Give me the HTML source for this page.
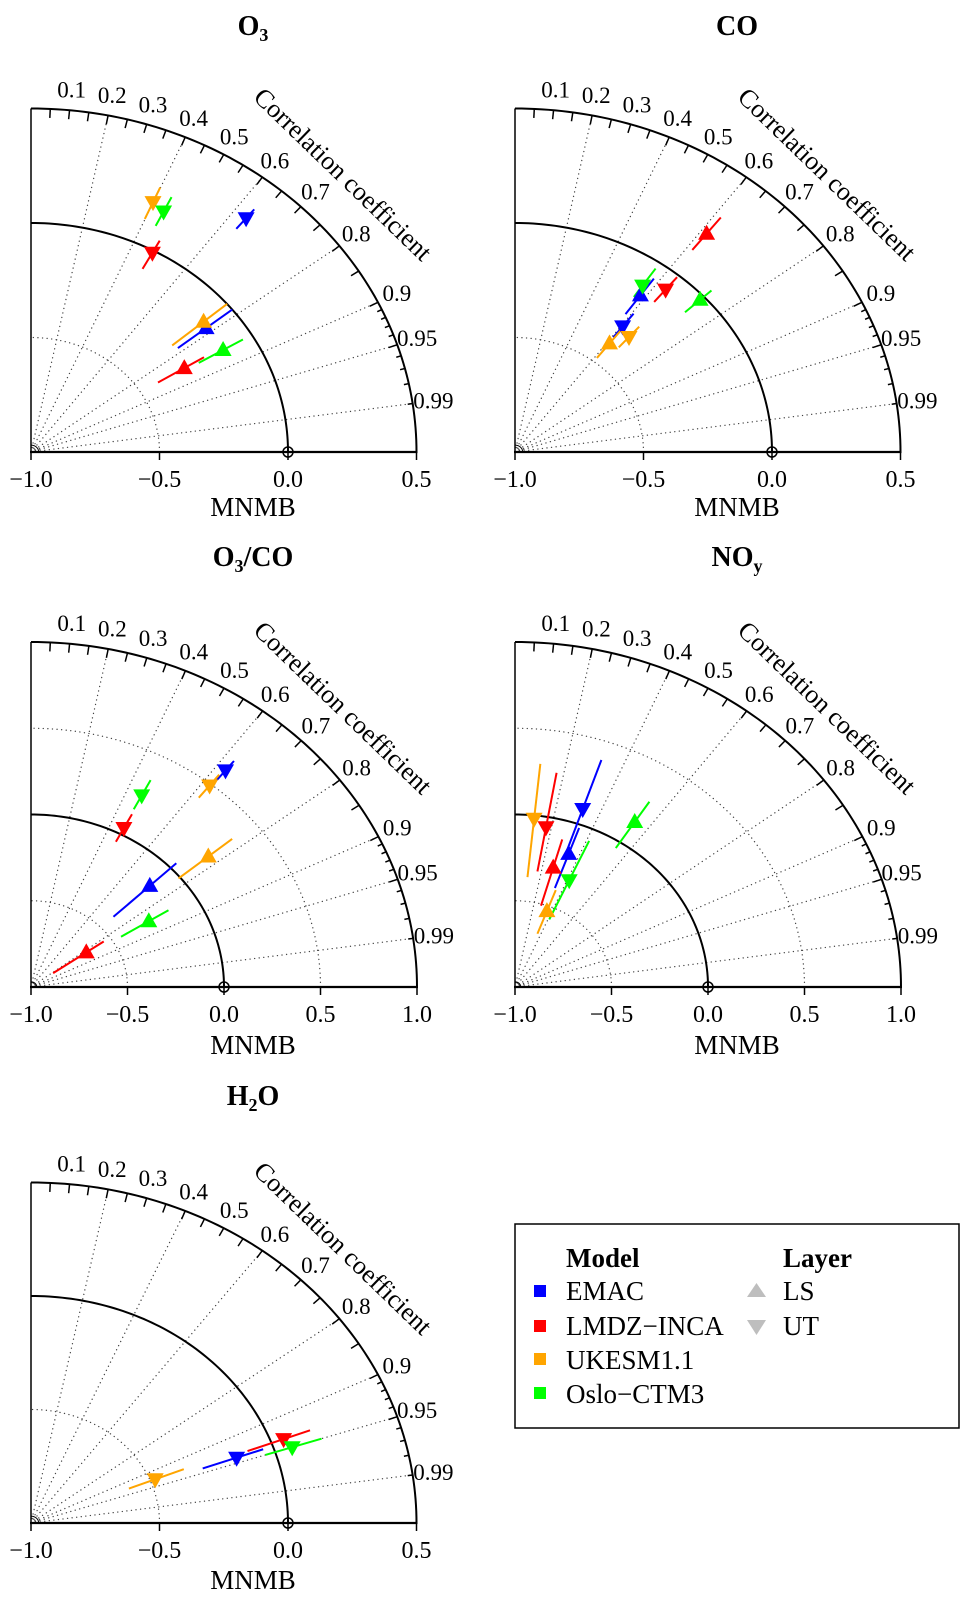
<!DOCTYPE html>
<html><head><meta charset="utf-8"><style>
html,body{margin:0;padding:0;background:#fff;}
svg{display:block;font-family:"Liberation Serif",serif;}
</style></head><body>
<svg id="fig" width="970" height="1600" viewBox="0 0 970 1600" xmlns="http://www.w3.org/2000/svg">
<g id="panels"></g>
<g>
<rect x="515" y="1224" width="444" height="204" fill="#fff" stroke="#000" stroke-width="1.5"/>
<text x="566" y="1267" font-size="27" font-weight="bold">Model</text>
<text x="783" y="1267" font-size="27" font-weight="bold">Layer</text>
<rect x="534" y="1285" width="12" height="12" fill="#0000ff"/>
<text x="566" y="1300" font-size="27">EMAC</text>
<rect x="534" y="1320" width="12" height="12" fill="#ff0000"/>
<text x="566" y="1335" font-size="27">LMDZ−INCA</text>
<rect x="534" y="1353" width="12" height="12" fill="#ffa500"/>
<text x="566" y="1369" font-size="27">UKESM1.1</text>
<rect x="534" y="1387" width="12" height="12" fill="#00ff00"/>
<text x="566" y="1403" font-size="27">Oslo−CTM3</text>
<polygon points="756.5,1283 747,1297 766,1297" fill="#bebebe"/>
<text x="783" y="1300" font-size="27">LS</text>
<polygon points="747,1320 766,1320 756.5,1335" fill="#bebebe"/>
<text x="783" y="1335" font-size="27">UT</text>
</g>
</svg>
<script>
// shared series identity (order of points in every panel)
const pointModel = ["EMAC","EMAC","LMDZ-INCA","LMDZ-INCA","UKESM1.1","UKESM1.1","Oslo-CTM3","Oslo-CTM3"];
const pointLayer = ["LS","UT","LS","UT","LS","UT","LS","UT"];
// O3
const o3Mnmb = [-0.13, 0.32, -0.30, -0.01, -0.12, 0.19, -0.13, 0.17];
const o3Corr = [0.783, 0.634, 0.852, 0.477, 0.763, 0.399, 0.859, 0.441];
const o3Lo   = [-0.27, 0.26, -0.42, -0.09, -0.28, 0.11, -0.24, 0.10];
const o3Hi   = [0.00, 0.37, -0.21, 0.05, 0.00, 0.26, -0.04, 0.24];
// CO
const coMnmb = [-0.16, -0.31, 0.21, -0.08, -0.40, -0.33, -0.02, -0.12];
const coCorr = [0.581, 0.607, 0.616, 0.637, 0.613, 0.662, 0.735, 0.564];
const coLo   = [-0.26, -0.37, 0.12, -0.15, -0.48, -0.39, -0.10, -0.18];
const coHi   = [-0.07, -0.24, 0.30, -0.01, -0.33, -0.27, 0.04, -0.03];
// O3/CO
const ratioMnmb = [-0.15, 0.61, -0.65, 0.04, 0.19, 0.49, -0.28, 0.25];
const ratioCorr = [0.724, 0.626, 0.819, 0.463, 0.772, 0.621, 0.848, 0.459];
const ratioLo   = [-0.41, 0.54, -0.86, -0.05, -0.01, 0.40, -0.45, 0.16];
const ratioHi   = [0.04, 0.68, -0.54, 0.13, 0.35, 0.57, -0.16, 0.35];
// NOy
const noyMnmb = [-0.18, 0.09, -0.28, -0.06, -0.53, -0.02, 0.14, -0.32];
const noyCorr = [0.339, 0.322, 0.275, 0.171, 0.352, 0.101, 0.544, 0.413];
const noyLo   = [-0.39, -0.19, -0.51, -0.32, -0.67, -0.36, -0.04, -0.57];
const noyHi   = [-0.02, 0.39, -0.11, 0.26, -0.40, 0.30, 0.28, -0.07];
// H2O (UT only)
const h2oMnmb = [null, -0.15, null, 0.05, null, -0.48, null, 0.07];
const h2oCorr = [null, 0.941, null, 0.936, null, 0.929, null, 0.950];
const h2oLo   = [null, -0.29, null, -0.10, null, -0.59, null, -0.04];
const h2oHi   = [null, -0.04, null, 0.16, null, -0.36, null, 0.19];
// axis tick labels
const xTicksShort = [-1.0, -0.5, 0.0, 0.5];
const xTicksLong  = [-1.0, -0.5, 0.0, 0.5, 1.0];
const corrLabels = [0.1,0.2,0.3,0.4,0.5,0.6,0.7,0.8,0.9,0.95,0.99];
const corrGrid = [0.2,0.4,0.6,0.8,0.9,0.95,0.99];
const modelColors = {"EMAC":"#0000ff","LMDZ-INCA":"#ff0000","UKESM1.1":"#ffa500","Oslo-CTM3":"#00ff00"};

const NS = "http://www.w3.org/2000/svg";
const root = document.getElementById('panels');
function mk(tag, attrs, parent){
  const e = document.createElementNS(NS, tag);
  for (const k in attrs) e.setAttribute(k, attrs[k]);
  parent.appendChild(e); return e;
}
function fmt(v){ const s = Math.abs(v).toFixed(1); return (v<0?'\u2212':'')+s; }

const panels = [
  {key:'o3', ox:31, oy:452, sx:257, sy:229, rmax:1.5, ticks:xTicksShort, title:['O','3',''], ty:35, my:64,
   m:o3Mnmb, c:o3Corr, lo:o3Lo, hi:o3Hi},
  {key:'co', ox:515, oy:452, sx:257, sy:229, rmax:1.5, ticks:xTicksShort, title:['CO','',''], ty:35, my:64,
   m:coMnmb, c:coCorr, lo:coLo, hi:coHi},
  {key:'o3co', ox:31, oy:987, sx:193, sy:172.5, rmax:2, ticks:xTicksLong, title:['O','3','/CO'], ty:566, my:67,
   m:ratioMnmb, c:ratioCorr, lo:ratioLo, hi:ratioHi},
  {key:'noy', ox:515, oy:987, sx:193, sy:172.5, rmax:2, ticks:xTicksLong, title:['NO','y',''], ty:566, my:67,
   m:noyMnmb, c:noyCorr, lo:noyLo, hi:noyHi},
  {key:'h2o', ox:31, oy:1523, sx:257, sy:227, rmax:1.5, ticks:xTicksShort, title:['H','2','O'], ty:1105, my:66,
   m:h2oMnmb, c:h2oCorr, lo:h2oLo, hi:h2oHi}
];

panels.forEach(p=>{
  const g = mk('g', {}, root);
  
  
  const X = (r,c)=> p.ox + r*c*p.sx;
  const Y = (r,c)=> p.oy - r*Math.sqrt(Math.max(0,1-c*c))*p.sy;
  const xOfM = m => p.ox + (m+1)*p.sx;
  function arcPath(r){
    let d='';
    for(let i=0;i<=90;i++){
      const a=i*Math.PI/180, c=Math.cos(a);
      d += (i?'L':'M') + X(r,c).toFixed(2)+','+Y(r,c).toFixed(2);
    }
    return d;
  }
  const dotted = p.rmax===2 ? [0.5,1.5] : [0.5];
  dotted.forEach(r=>{
    const a = mk('path', {d:arcPath(r), fill:'none', stroke:'#444', 'stroke-width':1.3, 'stroke-dasharray':'0.1 4.5', 'stroke-linecap':'round'}, g);
    
    
  });
  corrGrid.forEach(c=>{
    const l = mk('line', {x1:p.ox, y1:p.oy, x2:X(p.rmax,c), y2:Y(p.rmax,c), stroke:'#444', 'stroke-width':1.3, 'stroke-dasharray':'0.1 4.5', 'stroke-linecap':'round'}, g);
    
    
  });
  const ta = mk('path', {d:arcPath(0.03), fill:'none', stroke:'#000', 'stroke-width':1}, g);
  
  
  const ra = mk('path', {d:arcPath(1), fill:'none', stroke:'#000', 'stroke-width':2}, g);
  
  
  const oa = mk('path', {d:arcPath(p.rmax), fill:'none', stroke:'#000', 'stroke-width':2}, g);
  
  
  const va = mk('line', {x1:p.ox, y1:p.oy, x2:p.ox, y2:p.oy-p.rmax*p.sy, stroke:'#000', 'stroke-width':1.5}, g);
  
  
  const xa = mk('line', {x1:p.ox-1, y1:p.oy, x2:p.ox+p.rmax*p.sx+1, y2:p.oy, stroke:'#000', 'stroke-width':2.2}, g);
  
  
  p.ticks.forEach(t=>{
    const tx = xOfM(t);
    const tk = mk('line', {x1:tx, y1:p.oy, x2:tx, y2:p.oy+8, stroke:'#000', 'stroke-width':1.5}, g);
    
    
    const tl = mk('text', {x:tx, y:p.oy+35, 'font-size':24, 'text-anchor':'middle'}, g);
    tl.textContent = fmt(t);
    
    
  });
  const xt = mk('text', {x:p.ox+222, y:p.oy+p.my, 'font-size':27, 'text-anchor':'middle'}, g);
  xt.textContent = 'MNMB';
  
  
  const rc = mk('circle', {cx:xOfM(0), cy:p.oy, r:5, fill:'none', stroke:'#000', 'stroke-width':1.5}, g);
  
  
  const tickVals = [];
  for(let i=1;i<=18;i++) tickVals.push(+(i*0.05).toFixed(2));
  for(let i=91;i<=99;i++) tickVals.push(i/100);
  tickVals.forEach(c=>{
    const len = c>0.9 && c!==0.95 ? 5 : 9;
    const s = Math.sqrt(1-c*c);
    const x1 = X(p.rmax,c), y1 = Y(p.rmax,c);
    const ct = mk('line', {x1:x1, y1:y1, x2:x1-len*c, y2:y1+len*s, stroke:'#000', 'stroke-width':1.5}, g);
    
    
  });
  corrLabels.forEach(c=>{
    const s = Math.sqrt(1-c*c);
    const cx = X(p.rmax,c) + 21*c, cy = Y(p.rmax,c) - 21*s;
    const cl = mk('text', {x:cx, y:cy+8, 'font-size':23, 'text-anchor':'middle'}, g);
    cl.textContent = String(c);
    
    
  });
  const topY = p.oy - p.rmax*p.sy;
  const cc = mk('text', {x:0, y:0, 'font-size':26, 'text-anchor':'middle', transform:'translate('+(p.ox+306)+','+(topY+72)+') rotate(44)'}, g);
  cc.textContent = 'Correlation coefficient';
  
  
  const tt = mk('text', {x:p.ox+222, y:p.ty, 'font-size':28, 'font-weight':'bold', 'text-anchor':'middle'}, g);
  
  
  const t1 = mk('tspan', {}, tt); t1.textContent = p.title[0];
  if (p.title[1]) { const t2 = mk('tspan', {'font-size':18, dy:6}, tt); t2.textContent = p.title[1]; }
  if (p.title[2]) { const t3 = mk('tspan', {dy:p.title[1]?-6:0}, tt); t3.textContent = p.title[2]; }
  for (let i=0;i<pointModel.length;i++){
    if (p.m[i]===null) continue;
    const col = modelColors[pointModel[i]];
    const c = p.c[i];
    const el = mk('line', {x1:X(p.lo[i]+1,c), y1:Y(p.lo[i]+1,c), x2:X(p.hi[i]+1,c), y2:Y(p.hi[i]+1,c), stroke:col, 'stroke-width':2}, g);
    
    
  }
  for (let i=0;i<pointModel.length;i++){
    if (p.m[i]===null) continue;
    const col = modelColors[pointModel[i]];
    const r = p.m[i]+1, c = p.c[i];
    const x = X(r,c), y = Y(r,c);
    const pts = pointLayer[i]==='LS'
      ? [[x,y-9],[x-8.5,y+6],[x+8.5,y+6]]
      : [[x-8.5,y-6],[x+8.5,y-6],[x,y+9]];
    const mkr = mk('polygon', {points:pts.map(q=>q[0].toFixed(1)+','+q[1].toFixed(1)).join(' '), fill:col}, g);
    
    
  }
});
</script>
</body></html>
